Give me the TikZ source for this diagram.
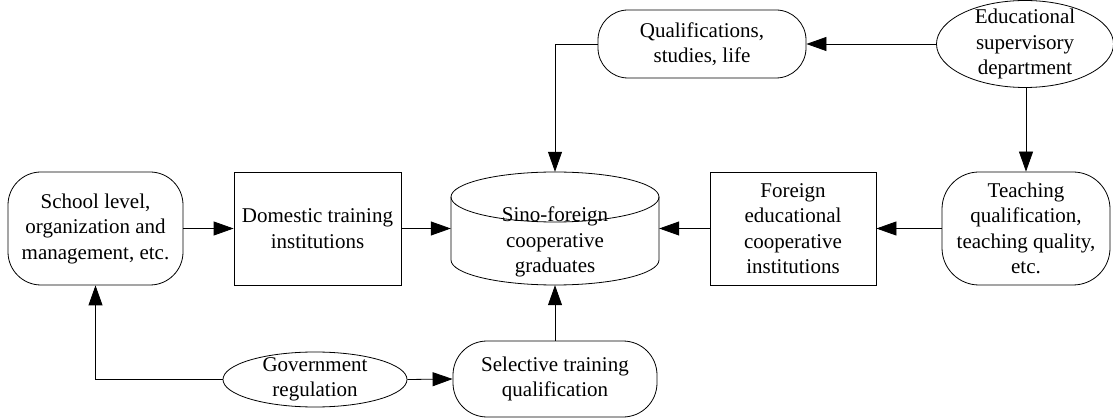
\documentclass[tikz,border=0pt]{standalone}
\usepackage{fontspec}
\setmainfont{Liberation Serif}
\usetikzlibrary{arrows.meta,shapes.geometric}
\tikzset{
  every node/.style={font=\fontsize{21}{25.5}\selectfont, align=center, inner sep=0pt},
  sqbox/.style={draw, line width=0.8pt, minimum height=113pt},
  rbox/.style={draw, line width=0.8pt, minimum height=113pt, rounded corners=#1},
  pill/.style={draw, line width=0.8pt, rounded corners=#1},
  ellbox/.style={draw, ellipse, line width=0.8pt},
  conn/.style={line width=0.8pt, -{Triangle[length=20pt,width=14pt]}},
  plain/.style={line width=0.8pt}
}
\begin{document}
\begin{tikzpicture}[x=1pt,y=-1pt]
\useasboundingbox (0,0) rectangle (1113,419);
% nodes
\node[rbox=33pt, minimum width=175pt] (school) at (95.5,228.5) {School level,\\organization and\\management, etc.};
\node[sqbox, minimum width=167pt] (domestic) at (317.5,228.5) {Domestic training\\institutions};
\node[minimum width=208pt, minimum height=113pt] (cyl) at (555,228.5) {};
\draw[line width=0.8pt] (555,197) ellipse [x radius=104pt, y radius=25pt];
\draw[line width=0.8pt] (451,197) -- (451,260) arc [start angle=180, end angle=360, x radius=104pt, y radius=25pt] -- (659,197);
\node (cyltext) at (555,242) {Sino-foreign\\cooperative\\graduates};
\node[sqbox, minimum width=166pt] (foreign) at (793,228.5) {Foreign\\educational\\cooperative\\institutions};
\node[rbox=37pt, minimum width=168pt] (teaching) at (1026,228.5) {Teaching\\qualification,\\teaching quality,\\etc.};
\node[pill=30pt, minimum width=208pt, minimum height=68pt] (qual) at (702,44) {Qualifications,\\studies, life};
\node[ellbox, minimum width=177pt, minimum height=87pt] (edu) at (1025,44) {};
\node (edutext) at (edu.center) {Educational\\supervisory\\department};
\node[pill=34pt, minimum width=204pt, minimum height=76pt] (sel) at (555,379) {Selective training\\qualification};
\node[ellbox, minimum width=184pt, minimum height=55pt] (gov) at (315,379.5) {};
\node (govtext) at (gov.center) {Government\\regulation};
% connectors
\draw[conn] (school.east) -- (domestic.west);
\draw[conn] (domestic.east) -- (cyl.west);
\draw[conn] (foreign.west) -- (cyl.east);
\draw[conn] (teaching.west) -- (foreign.east);
\draw[conn] (edu.west) -- (qual.east);
\draw[conn] (edu.south -| teaching.north) -- (teaching.north);
\draw[conn] (qual.west) -| (cyl.north);
\draw[conn] (gov.east) -- (sel.west);
\draw[conn] (sel.north) -- (cyl.south);
\draw[conn] (gov.west) -| (school.south);
\end{tikzpicture}
\end{document}
